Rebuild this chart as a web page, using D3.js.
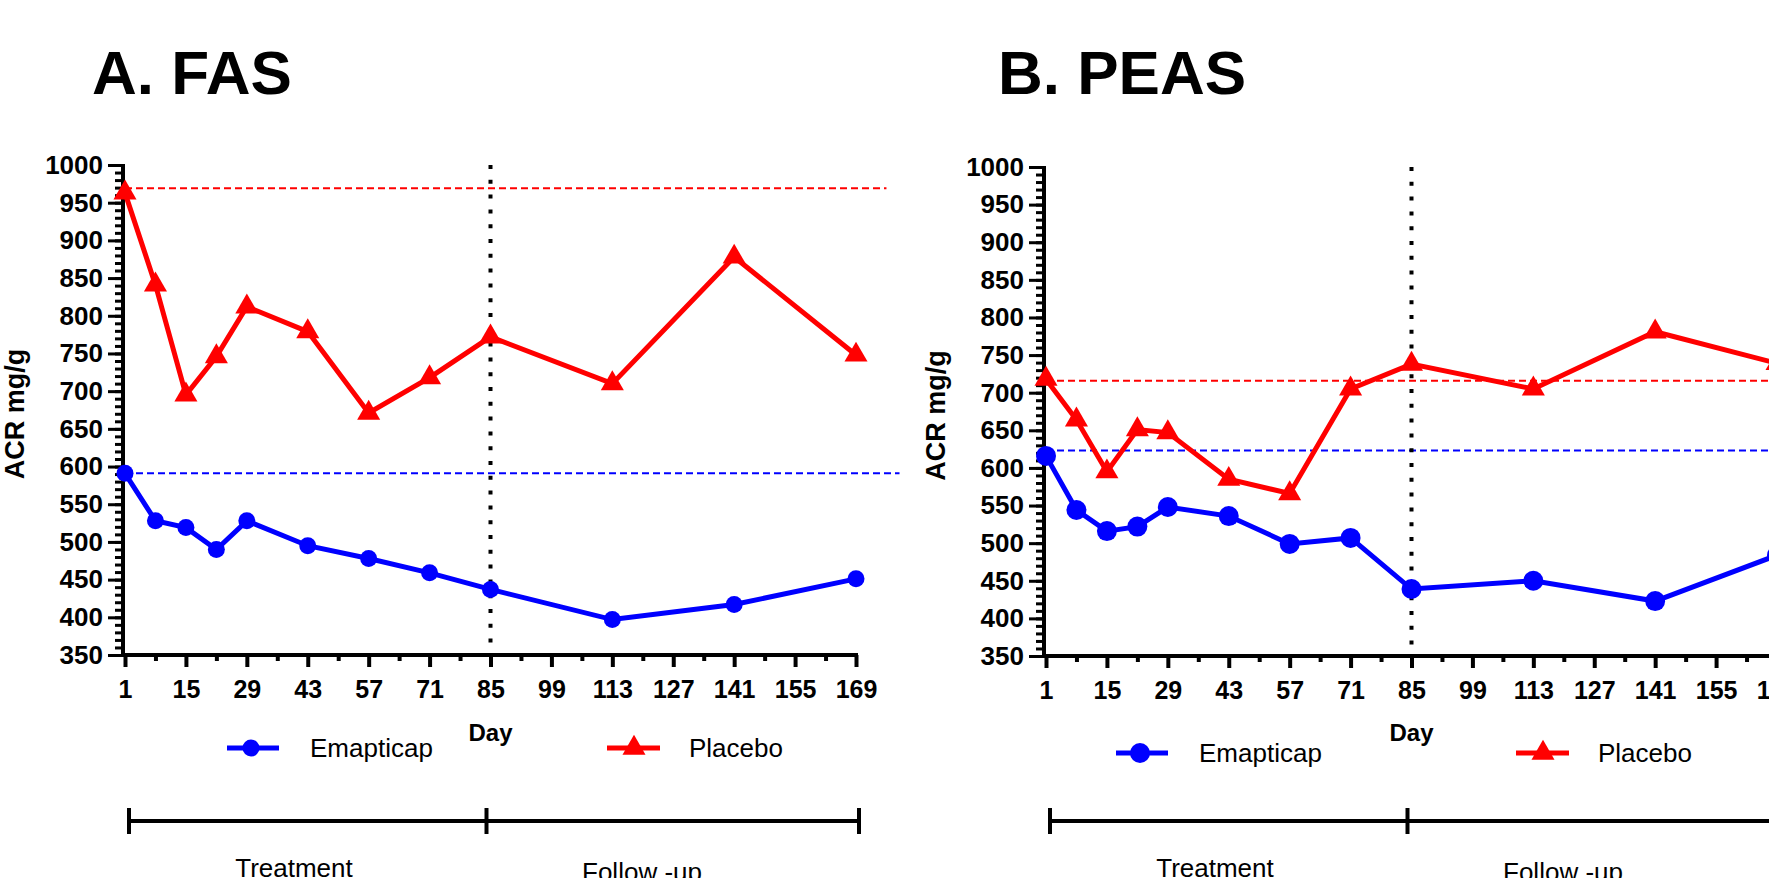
<!DOCTYPE html>
<html>
<head>
<meta charset="utf-8">
<script src="https://cdn.jsdelivr.net/npm/d3@7"></script>
<style>
  body { margin: 0; background: #fff; }
  svg { display: block; font-family: "Liberation Sans", Arial, sans-serif; }
</style>
</head>
<body>
<svg id="chart"></svg>
<script>
// data
const days = [1, 8, 15, 22, 29, 43, 57, 71, 85, 113, 141, 169];
const fasEmapticap = [591, 528, 519, 490, 528, 495, 478, 459, 437, 397, 417, 451];
const fasPlacebo = [963, 841, 695, 746, 812, 779, 671, 718, 772, 710, 878, 748];
const peasEmapticap = [616, 544, 516, 522, 548, 536, 499, 507, 439, 450, 423, 484];
const peasPlacebo = [718, 664, 595, 651, 647, 585, 566, 705, 738, 705, 781, 739];
const fasBaseline = [591, 969];   // emapticap, placebo
const peasBaseline = [623, 716];
const yMajor = [350, 400, 450, 500, 550, 600, 650, 700, 750, 800, 850, 900, 950, 1000];
const yMinor = d3.range(350, 1001, 10);
const xMajor = [1, 15, 29, 43, 57, 71, 85, 99, 113, 127, 141, 155, 169];
const xMinor = [8, 22, 36, 50, 64, 78, 92, 106, 120, 134, 148, 162];
const titles = ["A. FAS", "B. PEAS"];
const seriesNames = ["Emapticap", "Placebo"];
const phases = ["Treatment", "Follow -up"];

const width = 1769, height = 878;
const blue = "#0000ff", red = "#ff0000";
const font = '"Liberation Sans", Arial, sans-serif';

const svg = d3.select("#chart").attr("width", width).attr("height", height);

let panels = [
  { title: titles[0], emap: fasEmapticap, plac: fasPlacebo, base: fasBaseline,
    x0: 125, titleX: 92, yTop: 165, yBot: 655, r: 8.5, legDy: 748,
    legE: 227, legP: 607, redEnd: 176, blueEnd: 179 },
  { title: titles[1], emap: peasEmapticap, plac: peasPlacebo, base: peasBaseline,
    x0: 1046, titleX: 998, yTop: 167, yBot: 656, r: 10, legDy: 753,
    legE: 1116, legP: 1516, redEnd: 200, blueEnd: 200 }
];

function drawPanel(p) {
  let x = d3.scaleLinear().domain([1, 169]).range([p.x0, p.x0 + 731]);
  let y = d3.scaleLinear().domain([350, 1000]).range([p.yBot, p.yTop]);
  let g = svg.append("g");

  // title
  g.append("text")
    .attr("x", p.titleX).attr("y", 94)
    .attr("font-size", 62).attr("font-weight", "bold")
    .text(p.title);

  // baselines
  g.append("line")
    .attr("x1", x(1)).attr("x2", x(p.redEnd))
    .attr("y1", y(p.base[1])).attr("y2", y(p.base[1]))
    .attr("stroke", red).attr("stroke-width", 2).attr("stroke-dasharray", "7,4");
  g.append("line")
    .attr("x1", x(1)).attr("x2", x(p.blueEnd))
    .attr("y1", y(p.base[0])).attr("y2", y(p.base[0]))
    .attr("stroke", blue).attr("stroke-width", 2).attr("stroke-dasharray", "7,4");

  // end of treatment
  g.append("line")
    .attr("x1", x(85)).attr("x2", x(85))
    .attr("y1", y(1000)).attr("y2", y(350))
    .attr("stroke", "#000").attr("stroke-width", 4).attr("stroke-dasharray", "4,10.8");

  // y axis
  let yAxisMinor = d3.axisLeft(y).tickValues(yMinor).tickSize(8).tickFormat("");
  let yAxisMajor = d3.axisLeft(y).tickValues(yMajor).tickSize(15).tickPadding(5)
    .tickFormat(d3.format("d"));
  [yAxisMinor, yAxisMajor].forEach(ax => {
    let a = g.append("g").attr("transform", `translate(${p.x0 - 2},0)`).call(ax);
    a.select(".domain").remove();
    a.selectAll(".tick line").attr("stroke-width", 3);
    a.selectAll("text").attr("font-size", 26).attr("font-weight", "bold")
      .attr("font-family", font).attr("fill", "#000");
  });

  // x axis
  let xAxisMinor = d3.axisBottom(x).tickValues(xMinor).tickSize(6).tickFormat("");
  let xAxisMajor = d3.axisBottom(x).tickValues(xMajor).tickSize(12).tickPadding(13)
    .tickFormat(d3.format("d"));
  [xAxisMinor, xAxisMajor].forEach(ax => {
    let a = g.append("g").attr("transform", `translate(0,${p.yBot})`).call(ax);
    a.select(".domain").remove();
    a.selectAll(".tick line").attr("stroke-width", 4);
    a.selectAll("text").attr("font-size", 25).attr("font-weight", "bold")
      .attr("font-family", font).attr("fill", "#000");
  });

  // axis lines
  g.append("line")
    .attr("x1", p.x0 - 2).attr("x2", p.x0 - 2)
    .attr("y1", y(1000) - 1).attr("y2", y(350) + 2)
    .attr("stroke", "#000").attr("stroke-width", 4);
  g.append("line")
    .attr("x1", p.x0 - 4).attr("x2", x(169) + 2)
    .attr("y1", y(350)).attr("y2", y(350))
    .attr("stroke", "#000").attr("stroke-width", 4);

  g.append("text")
    .attr("transform", `translate(${p.x0 - 101},${(y(1000) + y(350)) / 2 + 4}) rotate(-90)`)
    .attr("text-anchor", "middle")
    .attr("font-size", 27).attr("font-weight", "bold")
    .text("ACR mg/g");

  g.append("text")
    .attr("x", x(85)).attr("y", 741)
    .attr("text-anchor", "middle")
    .attr("font-size", 24).attr("font-weight", "bold")
    .text("Day");

  // series
  let line = d3.line().x((d, i) => x(days[i])).y(d => y(d));
  g.append("path").datum(p.plac).attr("d", line)
    .attr("fill", "none").attr("stroke", red).attr("stroke-width", 5);
  g.append("path").datum(p.emap).attr("d", line)
    .attr("fill", "none").attr("stroke", blue).attr("stroke-width", 5);

  let tri = d3.symbol().type(d3.symbolTriangle).size(230);
  g.selectAll(".tri").data(p.plac).enter().append("path")
    .attr("transform", (d, i) => `translate(${x(days[i])},${y(d)})`)
    .attr("d", tri).attr("fill", red);
  g.selectAll(".dot").data(p.emap).enter().append("circle")
    .attr("cx", (d, i) => x(days[i])).attr("cy", d => y(d))
    .attr("r", p.r).attr("fill", blue);

  // legend
  let leg = g.append("g").attr("font-size", 26);
  leg.append("line").attr("x1", p.legE).attr("x2", p.legE + 52)
    .attr("y1", p.legDy).attr("y2", p.legDy)
    .attr("stroke", blue).attr("stroke-width", 5);
  leg.append("circle").attr("cx", p.legE + 24).attr("cy", p.legDy).attr("r", p.r).attr("fill", blue);
  leg.append("text").attr("x", p.legE + 83).attr("y", p.legDy + 9).text(seriesNames[0]);
  leg.append("line").attr("x1", p.legP).attr("x2", p.legP + 53)
    .attr("y1", p.legDy).attr("y2", p.legDy)
    .attr("stroke", red).attr("stroke-width", 5);
  leg.append("path").attr("transform", `translate(${p.legP + 27},${p.legDy})`)
    .attr("d", tri).attr("fill", red);
  leg.append("text").attr("x", p.legP + 82).attr("y", p.legDy + 9).text(seriesNames[1]);

  // treatment / follow-up bar
  let t0 = x(1) + 4, t1 = x(85) - 4, t2 = x(169) + 3;
  let tl = g.append("g").attr("stroke", "#000").attr("stroke-width", 4);
  tl.append("line").attr("x1", t0).attr("x2", t2).attr("y1", 821).attr("y2", 821);
  [t0, t1, t2].forEach(t => {
    tl.append("line").attr("x1", t).attr("x2", t).attr("y1", 808).attr("y2", 834);
  });
  g.append("text").attr("x", p.x0 + 169).attr("y", 877)
    .attr("text-anchor", "middle").attr("font-size", 26).text(phases[0]);
  g.append("text").attr("x", p.x0 + 517).attr("y", 881)
    .attr("text-anchor", "middle").attr("font-size", 26).text(phases[1]);
}

panels.forEach(drawPanel);
</script>
</body>
</html>
